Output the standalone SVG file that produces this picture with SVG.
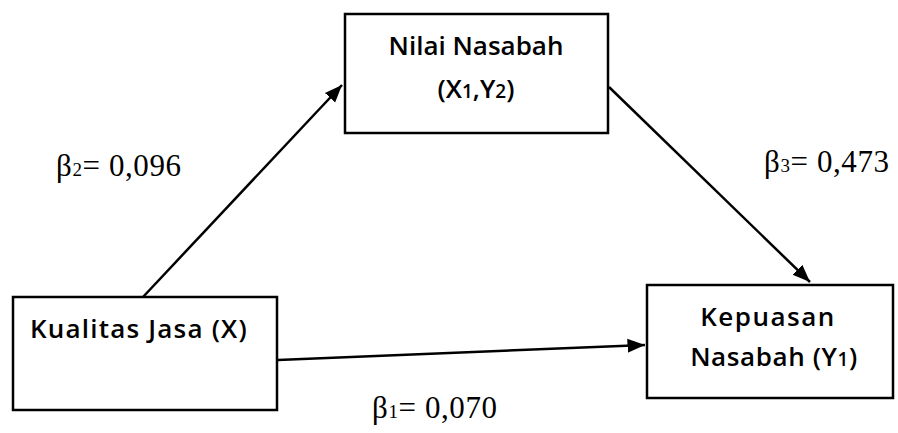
<svg xmlns="http://www.w3.org/2000/svg" width="898" height="433" viewBox="0 0 898 433">
<style>
.box{fill:#fff;stroke:#000;stroke-width:2.5}
.lbl{font-family:"Open Sans","Liberation Sans",sans-serif;font-size:26px;font-weight:600;fill:#000;text-anchor:middle}
.coef{font-family:"Liberation Serif","Times New Roman",serif;font-size:31px;letter-spacing:0.6px;fill:#000}
.sub{font-size:19px}
.edge{stroke:#000;stroke-width:2.5;fill:none;marker-end:url(#ah)}
</style>
<defs>
<marker id="ah" viewBox="0 0 10 10" refX="10" refY="5" markerWidth="7" markerHeight="7" orient="auto" markerUnits="strokeWidth">
<path d="M0,1 L10,5 L0,9 z" fill="#000"/>
</marker>
</defs>
<rect width="898" height="433" fill="#fff"/>
<g id="connectors">
<path class="edge" d="M143,297 L342,85"/>
<path class="edge" d="M609,87 L810,282"/>
<path class="edge" d="M278,360 L645,345"/>
</g>
<g id="nilai">
<rect class="box" x="345" y="14" width="263" height="119"/>
<text class="lbl" x="476" y="55">Nilai Nasabah</text>
<text class="lbl" x="476" y="98">(X<tspan class="sub">1</tspan>,Y<tspan class="sub">2</tspan>)</text>
</g>
<g id="kualitas">
<rect class="box" x="13" y="297" width="264" height="113"/>
<text class="lbl" x="139" y="338" letter-spacing="1.2">Kualitas Jasa (X)</text>
</g>
<g id="kepuasan">
<rect class="box" x="647" y="285" width="246" height="113"/>
<text class="lbl" x="768" y="326" letter-spacing="1.5">Kepuasan</text>
<text class="lbl" x="774" y="366" letter-spacing="0.6">Nasabah (Y<tspan class="sub">1</tspan>)</text>
</g>
<g id="labels">
<text class="coef" x="56" y="176">β<tspan class="sub">2</tspan>= 0,096</text>
<text class="coef" x="764" y="172">β<tspan class="sub">3</tspan>= 0,473</text>
<text class="coef" x="372" y="418">β<tspan class="sub">1</tspan>= 0,070</text>
</g>
</svg>
